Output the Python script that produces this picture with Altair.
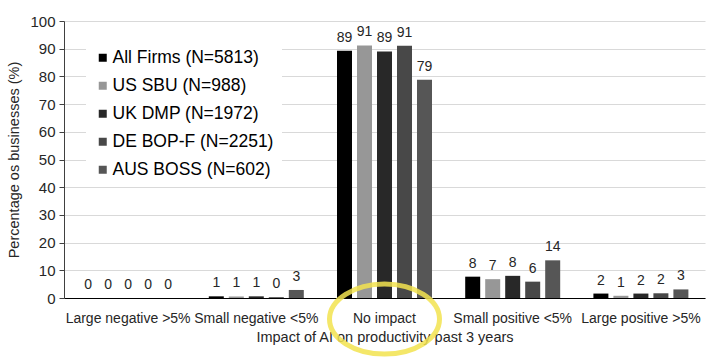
import altair as alt
import pandas as pd

categories = ["Large negative >5%", "Small negative <5%", "No impact",
              "Small positive <5%", "Large positive >5%"]
series = ["All Firms (N=5813)", "US SBU (N=988)", "UK DMP (N=1972)",
          "DE BOP-F (N=2251)", "AUS BOSS (N=602)"]
colors = ["#000000", "#979797", "#282828", "#484848", "#565656"]

all_firms = [0, 0.6, 89.3, 7.7, 1.6]
us_sbu = [0, 0.55, 91.2, 6.8, 0.8]
uk_dmp = [0, 0.6, 89.0, 8.0, 1.6]
de_bopf = [0, 0.3, 91.1, 5.9, 1.7]
aus_boss = [0, 2.9, 78.8, 13.6, 3.1]

rows = []
for s, vals in zip(series, [all_firms, us_sbu, uk_dmp, de_bopf, aus_boss]):
    for c, v in zip(categories, vals):
        rows.append({"cat": c, "series": s, "value": v})
df = pd.DataFrame(rows)

highlight = pd.DataFrame({"cat": ["No impact"], "value": [-7.6]})

FONT = "Liberation Sans"

x_enc = alt.X("cat:N", sort=categories,
              scale=alt.Scale(paddingInner=0.22, paddingOuter=0.11),
              axis=alt.Axis(title="Impact of AI on productivity past 3 years",
                            labelAngle=0, ticks=False, grid=False,
                            labelFontSize=14, titleFontSize=14.5,
                            labelPadding=13, titlePadding=5,
                            labelColor="#262626", titleColor="#262626",
                            titleFontWeight="normal",
                            domainColor="#000000"))
y_enc = alt.Y("value:Q",
              scale=alt.Scale(domain=[0, 100]),
              axis=alt.Axis(title="Percentage os businesses (%)",
                            values=list(range(0, 101, 10)),
                            labelOverlap=False,
                            tickSize=5, tickColor="#404040",
                            labelFontSize=15, titleFontSize=14.5,
                            labelPadding=4, titlePadding=8,
                            labelColor="#262626", titleColor="#262626",
                            titleFontWeight="normal",
                            gridColor="#d9d9d9", domainColor="#404040"))
xoff = alt.XOffset("series:N", sort=series,
                   scale=alt.Scale(paddingInner=0.25, paddingOuter=0.125))

bars = alt.Chart(df).mark_bar().encode(
    x=x_enc, y=y_enc, xOffset=xoff,
    color=alt.Color("series:N", sort=series,
                    scale=alt.Scale(domain=series, range=colors),
                    legend=alt.Legend(title=None, orient="none",
                                      legendX=22, legendY=20,
                                      fillColor="white", padding=8,
                                      symbolType="square", symbolSize=64,
                                      symbolStrokeWidth=0,
                                      labelFontSize=17.5, labelFont=FONT,
                                      labelColor="#000000", labelLimit=400,
                                      labelOffset=1, rowPadding=9)),
)

labels = alt.Chart(df).mark_text(
    baseline="alphabetic", dy=-9, fontSize=14, font=FONT, color="#262626"
).encode(
    x=x_enc, y=y_enc, xOffset=xoff,
    text=alt.Text("value:Q", format=".0f"),
)

ellipse_path = ("M -1 0 C -1 -0.351 -0.552 -0.636 0 -0.636 "
                "C 0.552 -0.636 1 -0.351 1 0 C 1 0.351 0.552 0.636 0 0.636 "
                "C -0.552 0.636 -1 0.351 -1 0 Z")
circle = alt.Chart(highlight).mark_point(
    shape=ellipse_path, size=12100, filled=False,
    stroke="#f3e350", strokeWidth=5, opacity=0.85
).encode(x=x_enc, y=y_enc)

chart = alt.layer(bars, labels, circle).properties(
    width=641, height=277,
    autosize=alt.AutoSizeParams(type="none"),
    padding={"left": 64, "top": 21, "right": 21, "bottom": 59},
).configure(font=FONT).configure_view(stroke=None)

chart.save("out.html", embed_options={"renderer": "svg", "actions": False})
